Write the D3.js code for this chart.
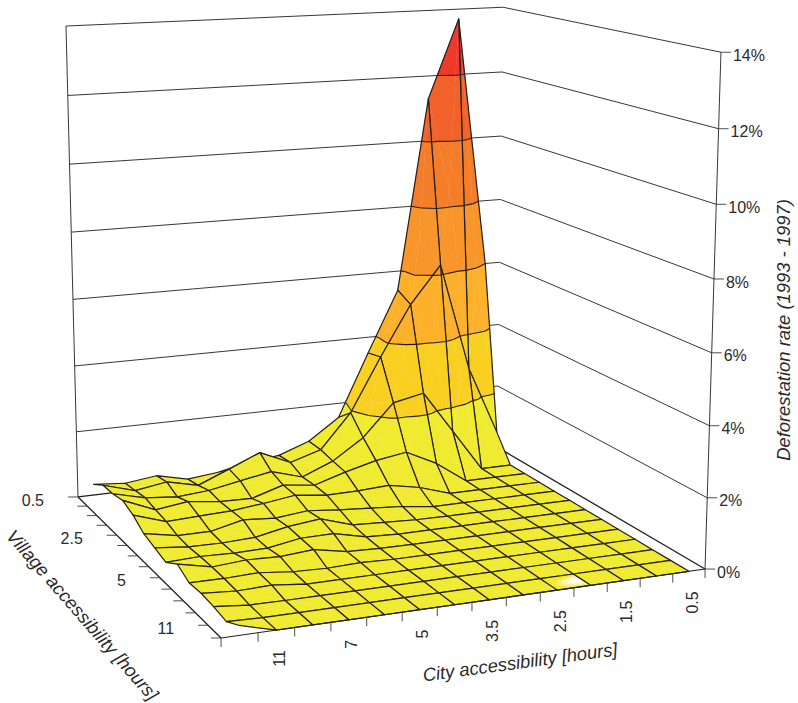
<!DOCTYPE html>
<html>
<head>
<meta charset="utf-8">
<script src="https://cdn.jsdelivr.net/npm/d3@7"></script>
<style>
  html, body { margin: 0; background: #fff; }
  text { font-family: "Liberation Sans", Arial, sans-serif; fill: #2b2a29; }
</style>
</head>
<body>
<div id="chart"></div>
<script>
// City axis bins (back to front), only every second one gets a label
const cityBins = ["0.5", "1", "1.5", "2", "2.5", "3", "3.5", "4", "5", "6", "7", "9", "11", "15"];
// Village axis ticks (back to front), only every fourth one gets a label
const villageBins = ["0.5", "1", "1.5", "2", "2.5", "3", "3.5", "4", "5", "6", "7", "9", "11", "15"];
const rateTicks = [0, 2, 4, 6, 8, 10, 12, 14];
const bandColors = ["#f0ea30", "#f9d022", "#fdb12b", "#f9962b", "#f47d2a", "#f1622a", "#ee3a2b"];

// Deforestation rate in %, one row per village bin, one column per city bin
const rates = [
  [6.0, 13.7, 11.3, 5.4, 3.5, 1.55, 0.9, 0.56, 0.45, 0.25, 0.15, 0.37, 0.25, 0.33],
  [0.8, 2.95, 6.3, 5.15, 3.6, 1.95, 0.89, 0.6, 1.02, 0.62, 0.23, 0.45, 0.3, 0.58],
  [0, 0, 1.3, 2.6, 2.4, 1.42, 0.8, 0.42, 0.7, 0.53, 0.35, 0.27, 0.36, 0.6],
  [0, 0, 0, 0.66, 1.12, 0.97, 0.73, 0.44, 0.56, 0.27, 0.29, 0.41, 0.28, 0.68],
  [0, 0, 0, 0, 0.3, 0.48, 0.43, 0.42, 0.53, 0.4, 0.3, 0.26, 0.22, 0.53],
  [0, 0, 0, 0, 0, 0.12, 0.19, 0.26, 0.35, 0.25, 0.32, 0.1, 0.1, 0.28],
  [0, 0, 0, 0, 0, 0.01, 0.05, 0.1, 0.4, 0.29, 0.1, 0.06, 0.07, 0.17],
  [0, 0, 0, 0, 0, 0, 0, 0.04, 0.26, 0.25, 0.09, 0.07, 0.1, 0.06],
  [0, 0, 0, 0, 0, 0, 0, 0.01, 0.04, 0.22, 0.15, 0.18, 0.11, 0.32],
  [0, 0, 0, 0, 0, 0, 0, 0, 0.03, 0, 0.03, 0.13, 0.1, 0.11],
  [0, 0, 0, 0, 0, 0, 0, 0, 0, 0, 0, 0.1, 0.07, 0.14],
  [0, 0, 0, 0, 0, 0, 0, 0, 0, 0, 0, 0, 0.01, 0.1],
  [0, 0, 0, 0, 0, 0, 0, 0, 0, 0, 0, 0, 0, 0.03],
  [0, 0, 0, 0, 0, 0, 0, 0, 0, 0, 0, 0, 0, 0.26]
];

const width = 798, height = 703;
const ink = "#231f20";

// Perspective camera fitted to the box corners of the picture, lean terms nudge the far left wall
const cam = {a: -423.7, b: 100.8, c: 497, d: 20, e: 35.5, f: 447, g: -0.0603, h: -0.1521, A: -11.3, B: -440, K: -0.0344,
             leanX: -2.5, leanY: -3.8};

const cityScale = d3.scaleBand().domain(d3.range(cityBins.length)).range([0, 1]);
const villageScale = d3.scalePoint().domain(d3.range(villageBins.length)).range([0, 1]);
const rateScale = d3.scaleLinear().domain([0, 14]).range([0, 1]);

// Box coords (u city, v village, w height, all 0..1) to pixels
function project(u, v, w) {
    const den = cam.g * u + cam.h * v + 1 + cam.K * w;
    return [(cam.a * u + cam.b * v + cam.c + cam.A * w) / den + cam.leanX * u * w,
            (cam.d * u + cam.e * v + cam.f + cam.B * w) / den + cam.leanY * u * w];
}

const toPixel = p => project(p.u, p.v, rateScale(p.z));
const line = d3.line();

const svg = d3.select("#chart").append("svg")
    .attr("width", width)
    .attr("height", height)
    .style("display", "block");

function boxLine(g, from, to, sw) {
    g.append("path")
        .attr("d", line([project(...from), project(...to)]))
        .attr("fill", "none")
        .attr("stroke", ink)
        .attr("stroke-width", sw);
}

// Back walls and their gridlines
const walls = svg.append("g");
rateTicks.forEach(t => {
    const w = rateScale(t);
    const sw = t === 0 ? 1.3 : 0.9;
    boxLine(walls, [1, 0, w], [0, 0, w], sw);
    boxLine(walls, [0, 0, w], [0, 1, w], sw);
});
boxLine(walls, [1, 0, 0], [1, 0, 1], 0.9);
boxLine(walls, [0, 1, 0], [0, 1, 1], 0.9);

// Cut a polygon so only the part with z between lo and hi stays
function clipBand(poly, lo, hi) {
    function cut(pts, inside, level) {
        const out = [];
        pts.forEach((p, i) => {
            const q = pts[(i + 1) % pts.length];
            if (inside(p)) out.push(p);
            if (inside(p) !== inside(q)) {
                const s = (level - p.z) / (q.z - p.z);
                out.push({u: p.u + (q.u - p.u) * s, v: p.v + (q.v - p.v) * s, z: level});
            }
        });
        return out;
    }
    let res = cut(poly, p => p.z >= lo, lo);
    if (res.length) res = cut(res, p => p.z <= hi, hi);
    return res;
}

// Piece of the contour line at a given level inside a triangle
function contourSegment(tri, level) {
    const pts = [];
    tri.forEach((p, i) => {
        const q = tri[(i + 1) % 3];
        if ((p.z >= level) !== (q.z >= level)) {
            const s = (level - p.z) / (q.z - p.z);
            pts.push({u: p.u + (q.u - p.u) * s, v: p.v + (q.v - p.v) * s, z: level});
        }
    });
    return pts.length === 2 ? pts : null;
}

const vertex = (i, j) => ({u: cityScale(i) + cityScale.bandwidth() / 2, v: villageScale(j), z: rates[j][i]});

// The white shine on one cell near the front edge
const glareCell = {i: 3, j: 12};
const glareAt = project(cityScale(3) + cityScale.bandwidth() * 0.62, (villageScale(12) + villageScale(13)) / 2, 0);
const glare = svg.append("defs").append("radialGradient")
    .attr("id", "glare")
    .attr("gradientUnits", "userSpaceOnUse")
    .attr("cx", 0).attr("cy", 0).attr("r", 1)
    .attr("gradientTransform", `translate(${glareAt[0]},${glareAt[1]}) rotate(-8) scale(24,6.5)`);
glare.append("stop").attr("offset", 0.25).attr("stop-color", "#fff").attr("stop-opacity", 1);
glare.append("stop").attr("offset", 1).attr("stop-color", "#fff").attr("stop-opacity", 0);

// Painter's order: back corner first
const surface = svg.append("g");
d3.range(villageBins.length - 1).forEach(j => {
    d3.range(cityBins.length - 1).forEach(i => {
        const p00 = vertex(i, j), p10 = vertex(i + 1, j), p01 = vertex(i, j + 1), p11 = vertex(i + 1, j + 1);
        const mid = {u: d3.mean([p00, p10, p01, p11], d => d.u),
                     v: d3.mean([p00, p10, p01, p11], d => d.v),
                     z: d3.mean([p00, p10, p01, p11], d => d.z)};
        const tris = [[p00, p10, mid], [p00, p01, mid], [p10, p11, mid], [p01, p11, mid]];
        const cell = surface.append("g");

        tris.forEach(tri => {
            bandColors.forEach((color, b) => {
                const poly = clipBand(tri, rateTicks[b], rateTicks[b + 1]);
                if (poly.length < 3) return;
                cell.append("path")
                    .attr("d", line(poly.map(toPixel)) + "Z")
                    .attr("fill", color)
                    .attr("stroke", color)
                    .attr("stroke-width", 0.4);
            });
        });

        if (i === glareCell.i && j === glareCell.j) {
            cell.append("path")
                .attr("d", line([p00, p10, p11, p01].map(toPixel)) + "Z")
                .attr("fill", "url(#glare)");
        }

        tris.forEach(tri => {
            rateTicks.slice(1, -1).forEach(level => {
                const seg = contourSegment(tri, level);
                if (!seg) return;
                cell.append("path")
                    .attr("d", line(seg.map(toPixel)))
                    .attr("fill", "none")
                    .attr("stroke", ink)
                    .attr("stroke-width", 1.1);
            });
        });

        cell.append("path")
            .attr("d", line([p00, p10, p11, p01].map(toPixel)) + "Z")
            .attr("fill", "none")
            .attr("stroke", ink)
            .attr("stroke-width", 1.2)
            .attr("stroke-linejoin", "round");
    });
});

// Front axes with ticks
const axes = svg.append("g");
boxLine(axes, [1, 0, 0], [1, 1, 0], 1.3);
boxLine(axes, [1, 1, 0], [0, 1, 0], 1.1);

function tick(p, dx, dy) {
    axes.append("line")
        .attr("x1", p[0]).attr("y1", p[1])
        .attr("x2", p[0] + dx).attr("y2", p[1] + dy)
        .attr("stroke", "#3a3a3a")
        .attr("stroke-width", 0.9);
}

// Height axis on the right
rateTicks.forEach(t => {
    const p = project(0, 1, rateScale(t));
    tick(p, 10, 0);
    axes.append("text")
        .attr("x", p[0] + 12)
        .attr("y", p[1] + 3)
        .attr("dy", "0.35em")
        .attr("font-size", 16)
        .text(t + "%");
});

// City axis along the front edge
d3.range(cityBins.length + 1).forEach(i => {
    tick(project(i / cityBins.length, 1, 0), 0, 9);
});
cityBins.forEach((label, i) => {
    if (i % 2 !== 0) return;
    const p = project(cityScale(i) + cityScale.bandwidth() / 2, 1, 0);
    axes.append("text")
        .attr("transform", `translate(${p[0] + 3},${p[1] + 20}) rotate(-90)`)
        .attr("text-anchor", "end")
        .attr("dy", "0.35em")
        .attr("font-size", 16)
        .text(label);
});

// Village axis along the left edge
villageBins.forEach((label, j) => {
    const p = project(1, villageScale(j), 0);
    tick(p, -10, 0);
    if (j % 4 !== 0) return;
    axes.append("text")
        .attr("x", p[0] - 34)
        .attr("y", p[1] + 3)
        .attr("dy", "0.35em")
        .attr("text-anchor", "end")
        .attr("font-size", 16)
        .text(label);
});

// Axis titles
function title(x, y, angle, str) {
    svg.append("text")
        .attr("transform", `translate(${x},${y}) rotate(${angle})`)
        .attr("text-anchor", "middle")
        .attr("dy", "0.35em")
        .attr("font-size", 18.4)
        .attr("font-style", "italic")
        .text(str);
}
title(82.5, 615, 48.8, "Village accessibility [hours]");
title(520, 662, -7.7, "City accessibility [hours]");
title(784, 330, -90, "Deforestation rate (1993 - 1997)");
</script>
</body>
</html>
